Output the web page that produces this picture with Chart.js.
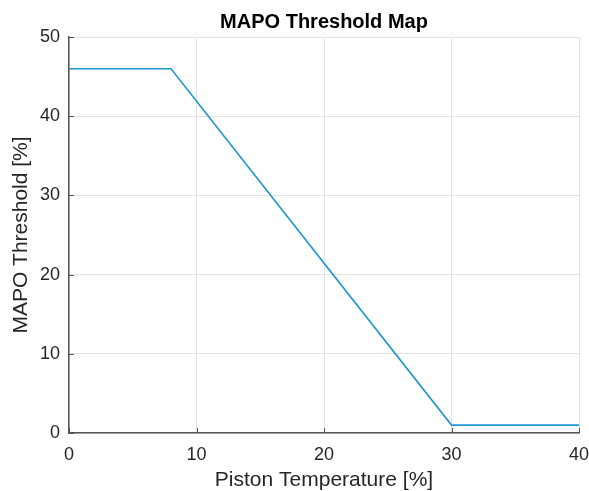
<!DOCTYPE html>
<html>
<head>
<meta charset="utf-8">
<script src="https://cdn.jsdelivr.net/npm/chart.js@4"></script>
<style>
    html, body { margin: 0; padding: 0; background: #fff; }
    #wrap { width: 589px; height: 491px; }
</style>
</head>
<body>
<div id="wrap"><canvas id="chart"></canvas></div>
<script>
const pistonTemperature = [0, 8, 30, 40];
const mapoThreshold = [46, 46, 1, 1];
const xTicks = [0, 10, 20, 30, 40];
const yTicks = [0, 10, 20, 30, 40, 50];
const chartTitle = 'MAPO Threshold Map';

const axisColor = '#555555';
const gridColor = '#e3e3e3';
const textColor = '#262626';
const fontFamily = '"Liberation Sans", Arial, Helvetica, sans-serif';

// short tick marks pointing into the plot, like the MATLAB axes box
const innerTicks = {
    id: 'innerTicks',
    afterDatasetsDraw(chart) {
        const { ctx, chartArea, scales } = chart;
        const len = 5;

        ctx.save();
        ctx.strokeStyle = axisColor;
        ctx.lineWidth = 1;
        ctx.beginPath();
        xTicks.forEach((value) => {
            const x = Math.round(scales.x.getPixelForValue(value)) + 0.5;
            ctx.moveTo(x, chartArea.bottom);
            ctx.lineTo(x, chartArea.bottom - len);
        });
        yTicks.forEach((value) => {
            const y = Math.round(scales.y.getPixelForValue(value)) + 0.5;
            ctx.moveTo(chartArea.left, y);
            ctx.lineTo(chartArea.left + len, y);
        });
        ctx.stroke();
        ctx.restore();
    },
};

// title centred over the plot area rather than the whole canvas
const plotTitle = {
    id: 'plotTitle',
    afterDraw(chart) {
        const { ctx, chartArea } = chart;

        ctx.save();
        ctx.fillStyle = '#000';
        ctx.font = `bold 20px ${fontFamily}`;
        ctx.textAlign = 'center';
        ctx.textBaseline = 'middle';
        ctx.fillText(chartTitle, (chartArea.left + chartArea.right) / 2, 22);
        ctx.restore();
    },
};

new Chart(document.getElementById('chart'), {
    type: 'line',
    data: {
        datasets: [{
            data: pistonTemperature.map((x, i) => ({ x, y: mapoThreshold[i] })),
            borderColor: '#1e96d2',
            borderWidth: 1.6,
            pointRadius: 0,
            tension: 0,
            fill: false,
        }],
    },
    options: {
        responsive: true,
        maintainAspectRatio: false,
        animation: false,
        layout: {
            padding: { left: 0, right: 10, top: 37, bottom: 0 },
        },
        plugins: {
            legend: { display: false },
            tooltip: { enabled: false },
            title: { display: false },
        },
        scales: {
            x: {
                type: 'linear',
                min: 0,
                max: 40,
                afterBuildTicks: (scale) => {
                    scale.ticks = xTicks.map((value) => ({ value }));
                },
                afterFit: (scale) => {
                    scale.height = 58;
                    scale.paddingLeft = 0;
                    scale.paddingRight = 0;
                },
                grid: {
                    color: gridColor,
                    drawTicks: false,
                },
                border: { color: axisColor, width: 1.5 },
                ticks: {
                    color: textColor,
                    padding: 11,
                    maxRotation: 0,
                    font: { family: fontFamily, size: 18 },
                },
                title: {
                    display: true,
                    text: 'Piston Temperature [%]',
                    color: textColor,
                    font: { family: fontFamily, size: 21, lineHeight: 1 },
                    padding: { top: 0, bottom: 0 },
                },
            },
            y: {
                type: 'linear',
                min: 0,
                max: 50,
                afterBuildTicks: (scale) => {
                    scale.ticks = yTicks.map((value) => ({ value }));
                },
                afterFit: (scale) => {
                    scale.width = 69;
                    scale.paddingTop = 0;
                    scale.paddingBottom = 0;
                },
                grid: {
                    color: gridColor,
                    drawTicks: false,
                },
                border: { color: axisColor, width: 1.5 },
                ticks: {
                    color: textColor,
                    padding: 9,
                    font: { family: fontFamily, size: 18 },
                },
                title: {
                    display: true,
                    text: 'MAPO Threshold [%]',
                    color: textColor,
                    font: { family: fontFamily, size: 21, lineHeight: 1.2 },
                    padding: { top: 9, bottom: 0 },
                },
            },
        },
    },
    plugins: [innerTicks, plotTitle],
});
</script>
</body>
</html>
